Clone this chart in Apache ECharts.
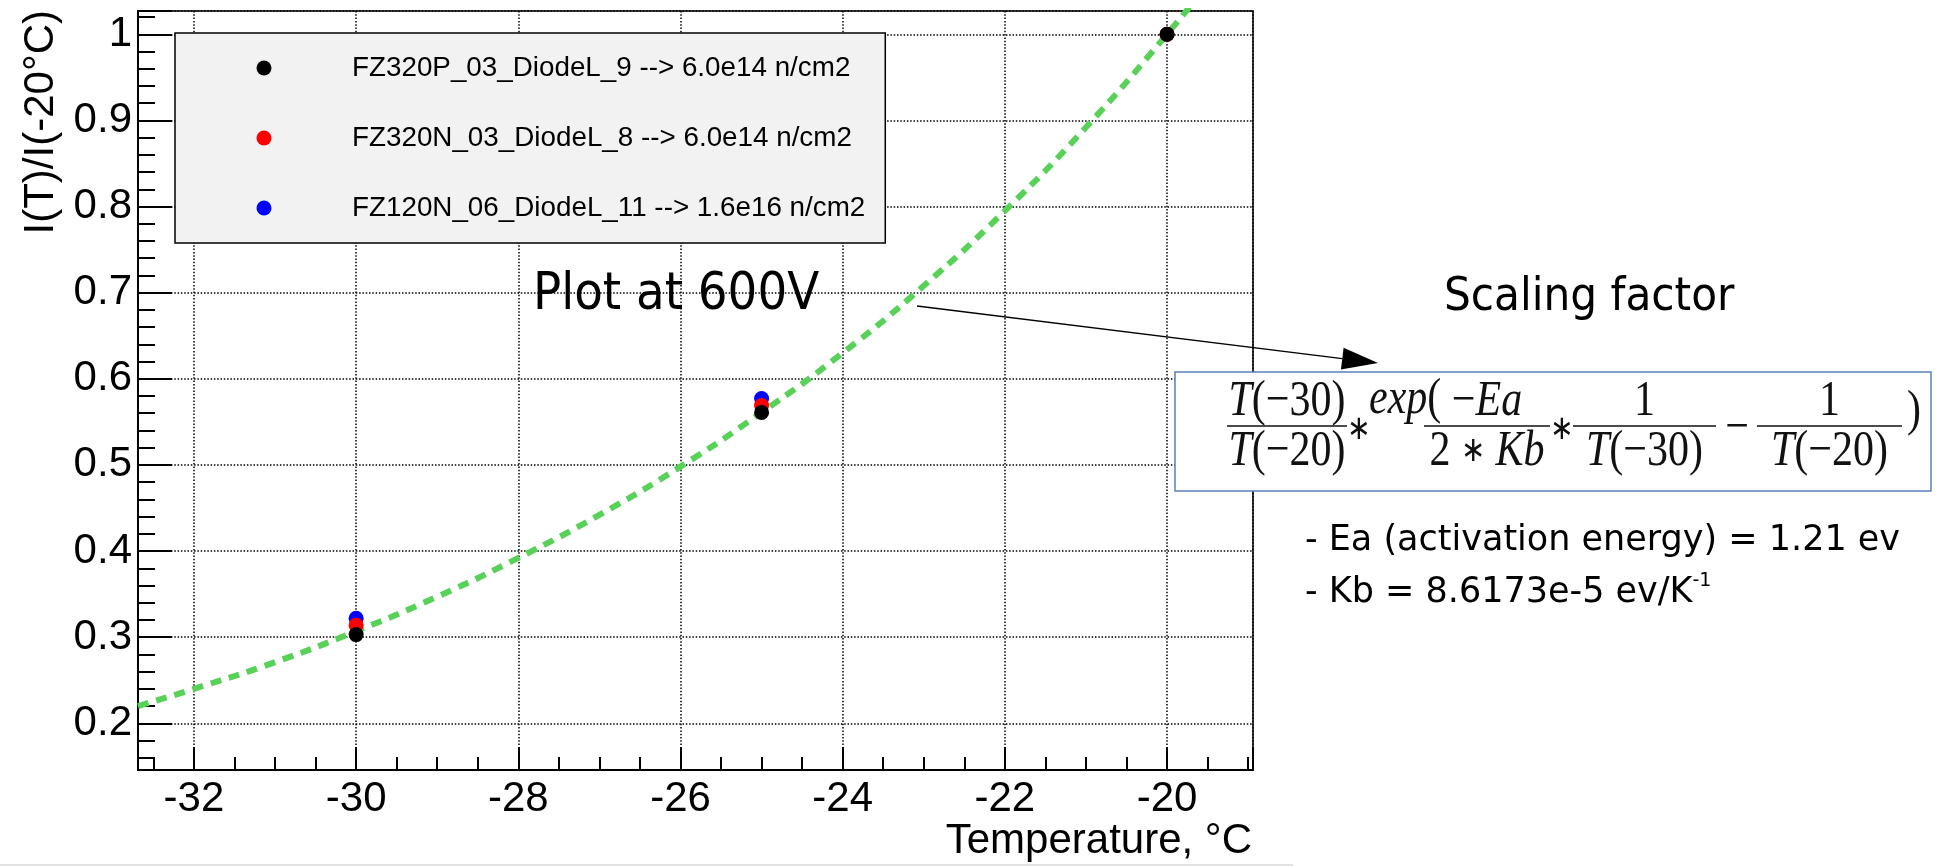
<!DOCTYPE html>
<html>
<head>
<meta charset="utf-8">
<script src="https://cdn.jsdelivr.net/npm/echarts@6/dist/echarts.min.js"></script>
<style>
  html, body { margin: 0; padding: 0; background: #ffffff; }
  #chart { width: 1939px; height: 866px; }
</style>
</head>
<body>
<div id="chart"></div>
<script>
// Leakage current normalised to its value at -20 °C, measured at 600 V
const temperatures = [-30, -25, -20];
const fz320pRatio = [0.303, 0.561, 1.000];
const fz320nRatio = [0.314, 0.569, 1.000];
const fz120nRatio = [0.322, 0.577, 1.000];

const seriesNames = [
  'FZ320P_03_DiodeL_9 --> 6.0e14 n/cm2',
  'FZ320N_03_DiodeL_8 --> 6.0e14 n/cm2',
  'FZ120N_06_DiodeL_11 --> 1.6e16 n/cm2'
];
const seriesColors = ['#000000', '#ff0000', '#0000ff'];

// Scaling-factor curve (dashed green)
const curveTemps = [-32.69, -32, -31, -30, -29, -28, -27, -26, -25, -24, -23, -22, -21, -20, -19.5];
const curveRatio = [0.220, 0.240, 0.271, 0.307, 0.347, 0.392, 0.442, 0.498, 0.561, 0.630, 0.708, 0.795, 0.892, 1.000, 1.058];

// Axis ranges
const xRange = [-32.69, -18.94];
const yRange = [0.1458, 1.027];

const sans = "'Liberation Sans', Arial, Helvetica, sans-serif";
const slideFont = "'DejaVu Sans Condensed', 'DejaVu Sans', sans-serif";
const slideFontWide = "'DejaVu Sans', sans-serif";
const serif = "'Liberation Serif', 'Times New Roman', serif";

const pairs = (xs, ys) => xs.map((x, i) => [x, ys[i]]);

const measured = [fz320pRatio, fz320nRatio, fz120nRatio].map((vals, k) => ({
  name: seriesNames[k],
  type: 'scatter',
  data: pairs(temperatures, vals),
  symbol: 'circle',
  symbolSize: 15,
  itemStyle: { color: seriesColors[k], opacity: 1 },
  z: 5 - k,
  silent: true
}));

// ---- formula pieces for the scaling-factor box ----
const fs = 42;
const stretch = 1.2;
function mathText(text, x, y, align, size) {
  const s = size || fs;
  return {
    type: 'text', x: x, y: y, scaleY: stretch, z: 102,
    style: {
      text: text, font: `${s}px ${serif}`, fill: '#111',
      align: align || 'center', verticalAlign: 'middle',
      rich: {
        i: { font: `italic ${s}px ${serif}`, fill: '#111' },
        a: { font: `${Math.round(s * 0.7)}px ${serif}`, fill: '#111' }
      }
    }
  };
}
function fracBar(x1, x2) {
  return { type: 'line', z: 102, shape: { x1: x1, y1: 426, x2: x2, y2: 426 }, style: { stroke: '#111', lineWidth: 1.6 } };
}
const numY = 402, denY = 452;
function fraction(x1, x2, num, den) {
  const cx = (x1 + x2) / 2;
  return [fracBar(x1, x2), mathText(num, cx, numY), mathText(den, cx, denY)];
}

// arrow from the annotation to the formula
const arrowStart = [917, 306], arrowTip = [1378, 363];
const adx = arrowTip[0] - arrowStart[0], ady = arrowTip[1] - arrowStart[1];
const alen = Math.hypot(adx, ady);
const ux = adx / alen, uy = ady / alen;
const headLen = 36, headHalf = 11;
const baseC = [arrowTip[0] - ux * headLen, arrowTip[1] - uy * headLen];

const graphics = [
  // thin grey strip along the bottom edge
  { type: 'rect', z: 0, shape: { x: 0, y: 864, width: 1293, height: 2 }, style: { fill: '#e2e2e2' } },
  // y axis title
  {
    type: 'text', x: 41, y: 10, rotation: Math.PI / 2, z: 50,
    style: { text: 'I(T)/I(-20°C)', font: `42px ${sans}`, fill: '#000', align: 'right', verticalAlign: 'middle' }
  },
  // x axis title
  {
    type: 'text', x: 1252, y: 841.5, z: 50,
    style: { text: 'Temperature, °C', font: `42px ${sans}`, fill: '#000', align: 'right', verticalAlign: 'middle' }
  },
  // annotations
  {
    type: 'text', x: 533, y: 295.5, z: 60,
    style: { text: 'Plot at 600V', font: `52px ${slideFont}`, fill: '#000', align: 'left', verticalAlign: 'middle' }
  },
  {
    type: 'text', x: 1444, y: 297.5, z: 60,
    style: { text: 'Scaling factor', font: `47px ${slideFont}`, fill: '#000', align: 'left', verticalAlign: 'middle' }
  },
  {
    type: 'text', x: 1305, y: 541, z: 60,
    style: { text: '- Ea (activation energy) = 1.21 ev', font: `35px ${slideFontWide}`, fill: '#000', align: 'left', verticalAlign: 'middle' }
  },
  {
    type: 'text', x: 1305, y: 592.5, z: 60,
    style: {
      text: '- Kb = 8.6173e-5 ev/K{sup|-1}', font: `35px ${slideFontWide}`, fill: '#000',
      align: 'left', verticalAlign: 'middle', lineHeight: 42,
      rich: { sup: { font: `19px ${slideFontWide}`, fill: '#000', lineHeight: 24, verticalAlign: 'top' } }
    }
  },
  // arrow
  {
    type: 'line', z: 101,
    shape: { x1: arrowStart[0], y1: arrowStart[1], x2: baseC[0], y2: baseC[1] },
    style: { stroke: '#000', lineWidth: 1.4 }
  },
  {
    type: 'polygon', z: 101,
    shape: { points: [
      arrowTip,
      [baseC[0] - uy * headHalf, baseC[1] + ux * headHalf],
      [baseC[0] + uy * headHalf, baseC[1] - ux * headHalf]
    ] },
    style: { fill: '#000' }
  },
  // formula box
  {
    type: 'rect', z: 100,
    shape: { x: 1175, y: 372, width: 756, height: 119 },
    style: { fill: '#ffffff', stroke: '#5b7fbd', lineWidth: 1.5 }
  },
  ...fraction(1227, 1347, '{i|T}(−30)', '{i|T}(−20)'),
  mathText('∗', 1358, 430, 'center', 28),
  mathText('{i|exp}(', 1369, 400, 'left'),
  ...fraction(1424, 1550, '−{i|Ea}', '2 {a|∗} {i|Kb}'),
  mathText('∗', 1561, 430, 'center', 28),
  ...fraction(1573, 1716, '1', '{i|T}(−30)'),
  mathText('−', 1737, 429, 'center'),
  ...fraction(1757, 1902, '1', '{i|T}(−20)'),
  mathText(')', 1907, 412, 'left')
];

const gridDots = { color: '#000', width: 1.5, type: [1.5, 1.8] };

const chart = echarts.init(document.getElementById('chart'), null, { renderer: 'canvas' });
chart.setOption({
  animation: false,
  backgroundColor: '#ffffff',
  grid: {
    left: 138, right: 686, top: 11, bottom: 96,
    show: true, borderColor: '#3a3a3a', borderWidth: 2, backgroundColor: 'transparent'
  },
  legend: {
    data: seriesNames,
    orient: 'vertical',
    left: 175, top: 33,
    padding: [14, 20, 14, 81.5],
    itemWidth: 15, itemHeight: 15, itemGap: 28,
    icon: 'circle',
    backgroundColor: '#f2f2f2',
    borderColor: '#000', borderWidth: 1.5, borderRadius: 0,
    selectedMode: false,
    textStyle: {
      fontFamily: sans, fontSize: 27.8, color: '#000',
      lineHeight: 30, padding: [12, 0, 0, 75.5]
    }
  },
  xAxis: {
    type: 'value', min: xRange[0], max: xRange[1], splitNumber: 7,
    axisLine: { show: true, onZero: false, lineStyle: { color: '#000', width: 2 } },
    axisTick: { show: true, inside: true, length: 23, lineStyle: { color: '#000', width: 2 } },
    minorTick: { show: true, splitNumber: 4, length: 13, lineStyle: { color: '#000', width: 2 } },
    axisLabel: {
      show: true, margin: 8, color: '#000', fontFamily: sans, fontSize: 42,
      showMinLabel: false, showMaxLabel: false
    },
    splitLine: { show: true, lineStyle: gridDots },
    minorSplitLine: { show: false }
  },
  yAxis: {
    type: 'value', min: yRange[0], max: yRange[1], splitNumber: 9,
    axisLine: { show: true, onZero: false, lineStyle: { color: '#000', width: 2 } },
    axisTick: { show: true, inside: true, length: 34, lineStyle: { color: '#000', width: 2 } },
    minorTick: { show: true, splitNumber: 5, length: 17, lineStyle: { color: '#000', width: 2 } },
    axisLabel: {
      show: true, margin: 6, color: '#000', fontFamily: sans, fontSize: 42,
      showMinLabel: false, showMaxLabel: false
    },
    splitLine: { show: true, lineStyle: gridDots },
    minorSplitLine: { show: false }
  },
  series: [
    {
      name: 'scaling factor',
      type: 'line',
      data: pairs(curveTemps, curveRatio),
      smooth: true,
      showSymbol: false,
      symbol: 'none',
      silent: true,
      z: 1,
      lineStyle: { color: '#58d158', width: 6, type: [11, 8] }
    },
    ...measured
  ],
  graphic: graphics
});
</script>
</body>
</html>
